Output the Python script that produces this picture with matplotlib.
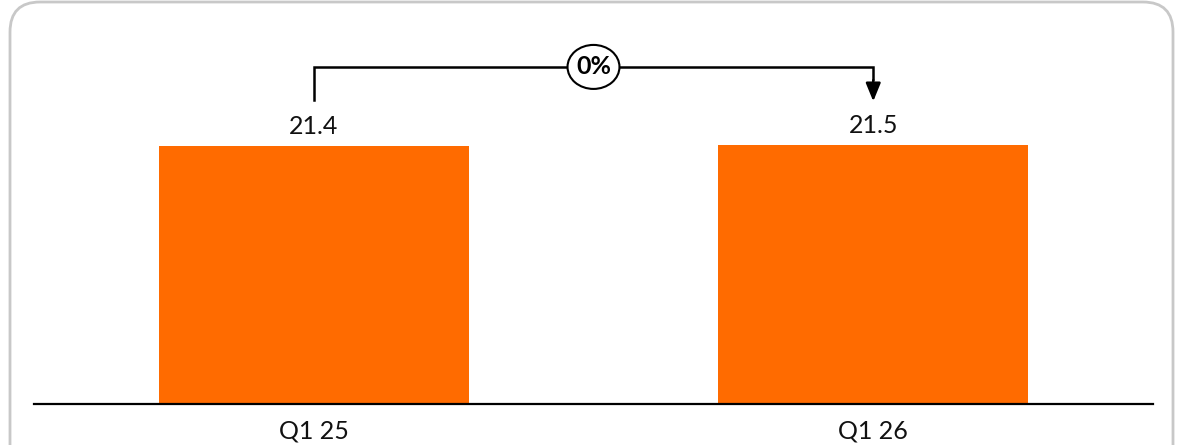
import matplotlib.pyplot as plt
from matplotlib.patches import FancyBboxPatch, Ellipse
from matplotlib.transforms import IdentityTransform

# data
quarters = ['Q1 25', 'Q1 26']
values = [21.4, 21.5]
change_label = '0%'

bar_color = '#FF6B00'
plt.rcParams['font.family'] = ['Lato', 'DejaVu Sans']

W, H = 1183, 445
fig = plt.figure(figsize=(W / 100, H / 100), dpi=100)

# rounded card outline (pixel coords)
card = FancyBboxPatch((10, -40), 1163, 483, boxstyle='round,pad=0,rounding_size=30',
                      transform=IdentityTransform(), facecolor='white',
                      edgecolor='#c8c8c8', linewidth=2, zorder=-10)
fig.add_artist(card)

ax = fig.add_axes([34 / W, (H - 404) / H, 1119 / W, 394 / H])
ax.set_facecolor('none')
x = list(range(len(quarters)))
ax.bar(x, values, width=0.554, color=bar_color, zorder=2)
ax.set_xlim(-0.5, 1.5)
ax.set_ylim(0, 394 / 12.06)

for s in ['top', 'right', 'left']:
    ax.spines[s].set_visible(False)
ax.spines['bottom'].set_linewidth(1.6)
ax.spines['bottom'].set_color('black')
ax.set_yticks([])
ax.set_xticks(x)
ax.set_xticklabels(quarters, fontsize=18, color='#111111')
ax.tick_params(axis='x', length=0, pad=11)

# value labels
for xi, v in zip(x, values):
    ax.text(xi, v + 1.6, f'{v:.1f}', ha='center', va='center', fontsize=18, color='#111111')

# change bracket
top = max(values) + 6.45
ax.plot([x[0], x[0], x[1], x[1]], [values[0] + 3.8, top, top, top - 1.0],
        color='black', lw=1.8, solid_joinstyle='miter', zorder=3)
ax.annotate('', xy=(x[1], values[1] + 3.6), xytext=(x[1], top - 1.1),
            arrowprops=dict(arrowstyle='-|>,head_length=1.1,head_width=0.45',
                            color='black', lw=1.8, shrinkA=0, shrinkB=0))
mid = (x[0] + x[1]) / 2
ax.add_patch(Ellipse((mid, top), 52 / 560, 44 / 12.06, facecolor='white',
                     edgecolor='black', lw=1.5, zorder=4))
ax.text(mid, top, change_label, ha='center', va='center', fontsize=18,
        fontweight='bold', zorder=5)

fig.savefig('out.png', dpi=100)
